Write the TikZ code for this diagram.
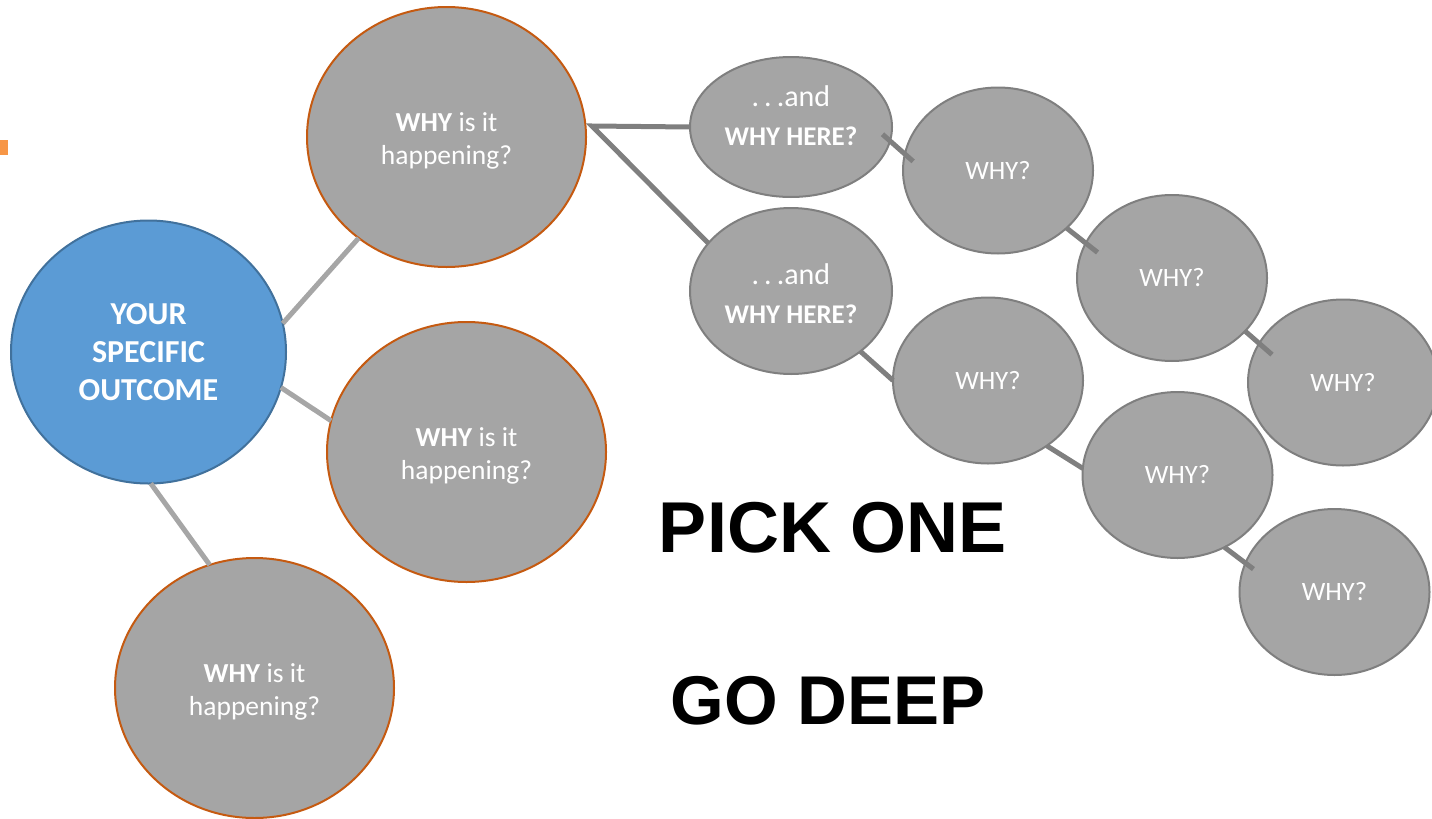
\documentclass[tikz,border=0pt]{standalone}
\usepackage{fontspec}
\setmainfont{Carlito}
\newfontfamily\headfont{Liberation Sans}
\usetikzlibrary{shapes.geometric}
\definecolor{bluefill}{HTML}{5B9BD5}
\definecolor{blueline}{HTML}{41719C}
\definecolor{grayfill}{HTML}{A5A5A5}
\definecolor{grayline}{HTML}{7F7F7F}
\definecolor{orangeline}{HTML}{C55A11}
\definecolor{lightcon}{HTML}{A6A6A6}
\definecolor{darkcon}{HTML}{7F7F7F}
\definecolor{orangemark}{HTML}{F79646}
\begin{document}
\begin{tikzpicture}[x=1pt,y=-1pt,
  bubble/.style={ellipse, inner sep=0pt, outer sep=0pt, line width=2pt, text=white, align=center},
  intext/.style={text=white, align=center, inner sep=0pt},
  outcome/.style={bubble, fill=bluefill, draw=blueline, font=\fontsize{32}{38}\selectfont\bfseries},
  whybig/.style={bubble, fill=grayfill, draw=orangeline, minimum width=279pt, minimum height=260pt,
    label={[intext, font=\fontsize{27.5}{32.5}\selectfont, yshift=-4pt]center:{\textbf{WHY} is it\\happening?}}},
  andbox/.style={bubble, fill=grayfill, draw=grayline, minimum width=202pt},
  andtext/.style={label={[intext, font=\fontsize{28}{39}\selectfont, yshift=#1]center:{{\fontsize{30}{39}\selectfont .\,.\,.and}\\{\fontsize{27}{39}\selectfont\bfseries WHY HERE?}}}},
  whysmall/.style={bubble, fill=grayfill, draw=grayline, minimum width=190pt, minimum height=166pt, font=\fontsize{26.5}{31}\selectfont},
  lightlink/.style={draw=lightcon, line width=5pt},
  darklink/.style={draw=darkcon, line width=5pt},
  bigtxt/.style={text=black, inner sep=0pt}
]
\useasboundingbox (0,0) rectangle (1432,819);
\fill[orangemark] (0,140) rectangle (8,155);

% nodes
\node[outcome, minimum width=275pt, minimum height=263pt] (blue) at (148.5,352) {YOUR\\SPECIFIC\\OUTCOME};
\node[whybig] (top) at (446.5,137) {};
\node[whybig] (mid) at (466.5,452) {};
\node[whybig] (bot) at (254.5,688) {};

\node[andbox, minimum height=140pt, andtext=11pt] (and1) at (791,127) {};
\node[andbox, minimum height=166pt, andtext=-3pt] (and2) at (791,291) {};

\node[whysmall] (w1) at (998,170.5) {WHY?};
\node[whysmall] (w2) at (1172,278) {WHY?};
\node[whysmall] (w3) at (1343,382.5) {WHY?};
\node[whysmall] (w4) at (988,380.5) {WHY?};
\node[whysmall] (w5) at (1177.5,475) {WHY?};
\node[whysmall] (w6) at (1334.5,592) {WHY?};

% big text
\node[bigtxt, anchor=base, font=\fontsize{72}{80}\selectfont\headfont\bfseries] (pick) at (833,552) {PICK ONE};
\node[bigtxt, anchor=base, font=\fontsize{69}{78}\selectfont\headfont\bfseries] (deep) at (828,724) {GO DEEP};

% light connectors
\draw[lightlink] (blue.12) -- (top.229);
\draw[lightlink] (blue.-15) -- (mid.167);
\draw[lightlink] (blue.-89) -- (bot.110);

% dark connectors
\coordinate (fork) at (592,126);
\draw[darklink, line join=miter] (and1.west) -- (fork) -- (and2.150);
\draw[darklink, shorten <=-10pt, shorten >=-11pt] (and1.-8) -- (w1.170);
\draw[darklink, shorten >=-15pt] (w1.-40) -- (w2.158);
\draw[darklink, shorten >=-17pt] (w2.-36) -- (w3.155);
\draw[darklink] (and2.-41) -- (w4.180);
\draw[darklink] (w4.-48) -- (w5.176);
\draw[darklink, shorten >=-10pt] (w5.-57) -- (w6.162);
\end{tikzpicture}
\end{document}
